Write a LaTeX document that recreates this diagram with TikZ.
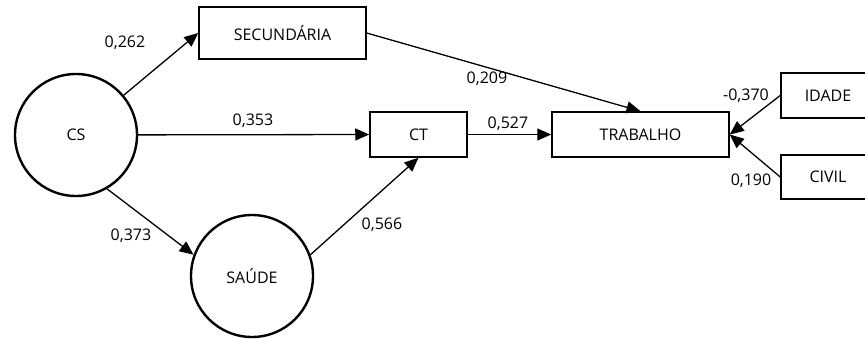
\documentclass[tikz,border=0pt]{standalone}
\usepackage{fontspec}
\setmainfont{Open Sans}
\usepackage{tikz}
\usetikzlibrary{shapes,arrows.meta}

\begin{document}
\begin{tikzpicture}[x=1pt,y=-1pt,
        font=\fontsize{16}{19}\selectfont,
        latent/.style={draw,circle,line width=2.4pt,minimum size=122pt,inner sep=0pt},
        observed/.style={draw,rectangle,line width=1.5pt,inner sep=0pt},
        path/.style={line width=1.3pt,-{Triangle[length=14pt,width=12pt]}},
        coef/.style={inner sep=0pt}]
                \useasboundingbox (0,0) rectangle (865,338);

                % Latent variables
                \node[latent] (cs) at (76,135) {CS};
                \node[latent] (saude) at (252,276) {SAÚDE};

                % Observed variables
                \node[observed,minimum width=167pt,minimum height=52pt] (sec) at (282.5,33) {SECUNDÁRIA};
                \node[observed,minimum width=97pt,minimum height=45pt] (ct) at (418.5,134.5) {CT};
                \node[observed,minimum width=177pt,minimum height=45pt] (trab) at (640.5,134.5) {TRABALHO};
                \node[observed,minimum width=94pt,minimum height=45pt] (idade) at (828,95.5) {IDADE};
                \node[observed,minimum width=94pt,minimum height=44pt] (civil) at (828,177) {CIVIL};

                % Paths
                \draw[path] (cs) -- (sec.west);
                \draw[path] (cs) -- (ct.west);
                \draw[path] (cs.-60) -- (saude.160);
                \draw[path] (saude.20) -- (ct.south);
                \draw[path] (sec.east) -- (trab.north);
                \draw[path] (ct.east) -- (trab.west);
                \draw[path] (idade.west) -- (trab.east);
                \draw[path] (civil.west) -- (trab.east);

                % Coefficients
                \node[coef] (c262) at (125,43) {0,262};
                \node[coef] (c353) at (253,121) {0,353};
                \node[coef] (c373) at (131,236) {0,373};
                \node[coef] (c566) at (382,225) {0,566};
                \node[coef] (c209) at (487,79) {0,209};
                \node[coef] (c527) at (508,124) {0,527};
                \node[coef] (c370) at (746,96) {-0,370};
                \node[coef] (c190) at (751,181) {0,190};
\end{tikzpicture}
\end{document}
